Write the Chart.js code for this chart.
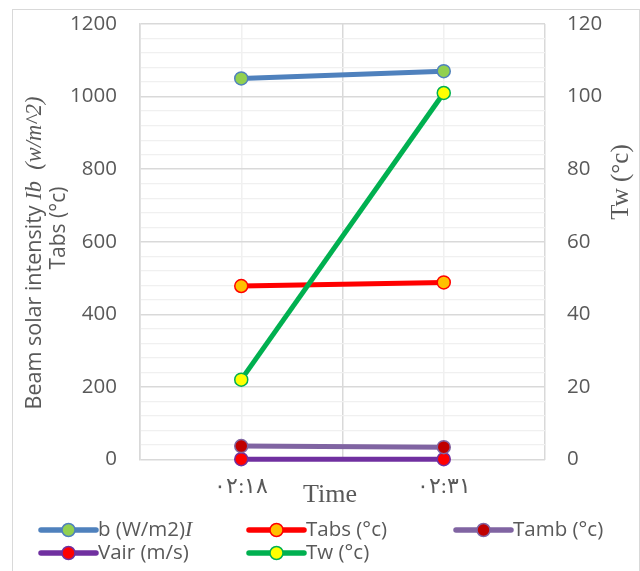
<!DOCTYPE html>
<html>
<head>
<meta charset="utf-8">
<script src="https://cdn.jsdelivr.net/npm/chart.js@4"></script>
<style>
  html, body { margin: 0; padding: 0; background: #fff; }
  #wrap { width: 640px; height: 571px; position: relative; }
</style>
</head>
<body>
<div id="wrap"><canvas id="c" width="640" height="571"></canvas></div>
<script>
// Readings at two times (Arabic-Indic digits as in the source sheet)
var times = ['٠٢:١٨', '٠٢:٣١'];
var beamIb = [1050, 1070];   // W/m2, left axis
var tAbs = [478, 488];       // left axis
var tAmb = [37, 34];         // left axis
var vAir = [1, 1];           // left axis
var tW = [22, 101];          // right axis

var GREY_TXT = '#595959';
var SANS = '"Open Sans", "Noto Sans", sans-serif';
var SERIF = '"Liberation Serif", "DejaVu Serif", serif';

function series(label, data, line, fill, axis) {
  return {
    label: label, data: data, yAxisID: axis || 'y',
    borderColor: line, backgroundColor: fill,
    borderWidth: 5, fill: false, tension: 0, clip: false,
    pointRadius: 6.5, pointBorderWidth: 1.5,
    pointBackgroundColor: fill, pointBorderColor: line
  };
}

var datasets = [
  series('b (W/m2)', beamIb, '#4f81bd', '#92d050'),
  series('Tabs (°c)', tAbs, '#ff0000', '#ffc000'),
  series('Tamb (°c)', tAmb, '#8064a2', '#c00000'),
  series('Vair (m/s)', vAir, '#7030a0', '#ff0000'),
  series('Tw (°c)', tW, '#00b050', '#ffff00', 'y1')
];
datasets[4].order = -1;

// legend slots: [dataset index, column x, row y]
var legendSlots = [[0, 41, 530], [1, 249, 530], [2, 456, 530], [3, 41, 553], [4, 249, 553]];

// y axes: keep the plot box where the sheet has it (no label overflow padding)
function fixVertical(width) {
  return function(s) { s.width = width; s.paddingTop = 0; s.paddingBottom = 0; };
}

var decor = {
  id: 'decor',
  beforeDraw: function(chart) {
    var ctx = chart.ctx;
    ctx.save();
    ctx.strokeStyle = '#d9d9d9';
    ctx.lineWidth = 1;
    ctx.strokeRect(12.5, 9.5, 627, 600);
    ctx.restore();
  },
  afterDraw: function(chart) {
    var ctx = chart.ctx;
    ctx.save();
    ctx.fillStyle = GREY_TXT;

    // left axis title, two rotated lines
    ctx.save();
    ctx.translate(35, 253);
    ctx.rotate(-Math.PI / 2);
    ctx.textBaseline = 'middle';
    var parts = [
      ['Beam solar intensity ', '21.5px ' + SANS],
      ['Ib', 'italic 22.5px ' + SERIF],
      ['  (w/m^2)', 'italic 22.5px ' + SERIF]
    ];
    var total = 0;
    parts.forEach(function(p) { ctx.font = p[1]; total += ctx.measureText(p[0]).width; });
    var x = -total / 2;
    ctx.textAlign = 'left';
    parts.forEach(function(p) { ctx.font = p[1]; ctx.fillText(p[0], x, 0); x += ctx.measureText(p[0]).width; });
    ctx.restore();

    ctx.save();
    ctx.translate(59, 228);
    ctx.rotate(-Math.PI / 2);
    ctx.textAlign = 'center';
    ctx.textBaseline = 'middle';
    ctx.font = '21px ' + SANS;
    ctx.fillText('Tabs (°c)', 0, 0);
    ctx.restore();

    // right axis title
    ctx.save();
    ctx.translate(621, 182);
    ctx.rotate(-Math.PI / 2);
    ctx.textAlign = 'center';
    ctx.textBaseline = 'middle';
    ctx.font = '25px ' + SERIF;
    ctx.fillText('Tw (°c)', 0, 0);
    ctx.restore();

    // x axis title
    ctx.textAlign = 'center';
    ctx.textBaseline = 'middle';
    ctx.font = '26px ' + SERIF;
    ctx.fillText('Time', 330, 495);

    // legend
    legendSlots.forEach(function(s) {
      var ds = chart.data.datasets[s[0]];
      var x0 = s[1], y = s[2];
      ctx.strokeStyle = ds.borderColor;
      ctx.lineWidth = 5.5;
      ctx.lineCap = 'round';
      ctx.beginPath();
      ctx.moveTo(x0, y);
      ctx.lineTo(x0 + 55, y);
      ctx.stroke();
      ctx.beginPath();
      ctx.arc(x0 + 27.5, y, 6.5, 0, Math.PI * 2);
      ctx.fillStyle = ds.pointBackgroundColor;
      ctx.fill();
      ctx.lineWidth = 1.5;
      ctx.strokeStyle = ds.pointBorderColor;
      ctx.stroke();
      ctx.fillStyle = GREY_TXT;
      ctx.textAlign = 'left';
      ctx.font = '20.5px ' + SANS;
      ctx.fillText(ds.label, x0 + 57, y);
      if (s[0] === 0) {
        var w = ctx.measureText(ds.label).width;
        ctx.font = 'italic 22px ' + SERIF;
        ctx.fillText('I', x0 + 57 + w, y);
      }
    });
    ctx.restore();
  }
};

new Chart(document.getElementById('c'), {
  type: 'line',
  data: { labels: times, datasets: datasets },
  plugins: [decor],
  options: {
    responsive: false, animation: false,
    layout: { padding: { top: 24, left: 0, right: 0, bottom: 0 } },
    plugins: { legend: { display: false }, tooltip: { enabled: false } },
    scales: {
      x: {
        type: 'category', offset: true, position: 'bottom',
        grid: { offset: true, color: '#d9d9d9', lineWidth: 1.5, drawTicks: false },
        border: { display: false },
        ticks: { color: GREY_TXT, font: { family: SERIF, size: 22 }, padding: 15, maxRotation: 0 },
        afterFit: function(s) { s.height = 111.5; s.paddingLeft = 0; s.paddingRight = 0; }
      },
      x2: {
        type: 'category', labels: times, offset: true, position: 'top',
        grid: { offset: false, color: '#f0f0f0', lineWidth: 1.5, drawTicks: false },
        border: { display: false },
        ticks: { display: false },
        afterFit: function(s) { s.height = 0; s.paddingLeft = 0; s.paddingRight = 0; }
      },
      y: {
        position: 'left', min: 0, max: 1200,
        ticks: {
          stepSize: 40, autoSkip: false, padding: 23, color: GREY_TXT,
          font: { family: SANS, size: 20.5 },
          callback: function(v) { return v % 200 === 0 ? v : ''; }
        },
        grid: {
          drawTicks: false,
          color: function(c) { return c.tick && c.tick.value % 200 === 0 ? '#d9d9d9' : '#f0f0f0'; },
          lineWidth: function(c) { return c.tick && c.tick.value % 200 === 0 ? 1.5 : 1.2; }
        },
        border: { display: true, color: '#d9d9d9', width: 1.5 },
        afterFit: fixVertical(140)
      },
      y1: {
        position: 'right', min: 0, max: 120,
        ticks: { stepSize: 20, padding: 22, color: GREY_TXT, font: { family: SANS, size: 20.5 } },
        grid: { drawOnChartArea: false, drawTicks: false },
        border: { display: false },
        afterFit: fixVertical(95)
      }
    }
  }
});
</script>
</body>
</html>
